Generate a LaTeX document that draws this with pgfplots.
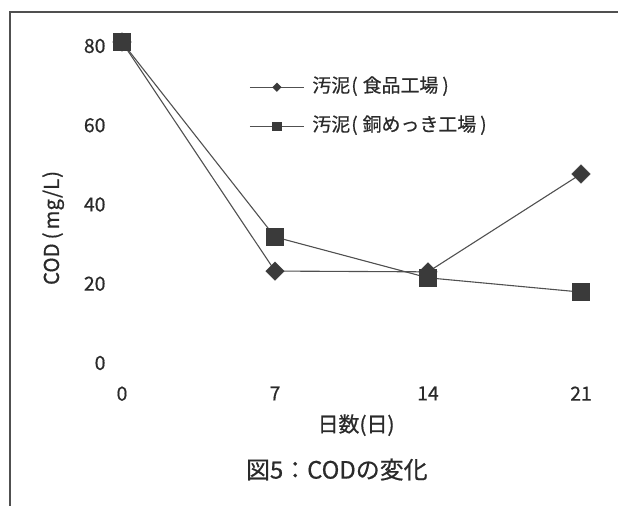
\documentclass[border=0pt]{standalone}
\usepackage{fontspec}
\setmainfont{Noto Sans CJK JP}[FakeBold=0.6]
\usepackage{pgfplots}
\pgfplotsset{compat=1.18}
\definecolor{mk}{HTML}{3A3A3A}
\definecolor{ln}{HTML}{505050}
\definecolor{frm}{HTML}{505050}
\definecolor{tx}{HTML}{2A2A2A}
\begin{document}
\begin{tikzpicture}
\useasboundingbox (0bp,0bp) rectangle (618bp,506bp);
\begin{axis}[
  at={(122bp,143bp)}, anchor=south west,
  scale only axis, width=459bp, height=317bp,
  xmin=0, xmax=21, ymin=0, ymax=80,
  axis line style={draw=none},
  major tick length=0pt,
  tick style={draw=none},
  clip=false,
  xtick={0,7,14,21}, ytick={0,20,40,60,80},
  /pgf/number format/assume math mode=true,
  ticklabel style={font=\fontsize{19.5}{21}\selectfont, text=tx},
  yticklabel style={anchor=east, xshift=-13bp},
  xticklabel style={anchor=north, yshift=-20bp},
  xlabel={日数(日)},
  ylabel={COD\hspace{4bp}(\hspace{3bp}mg/L\hspace{1bp})},
  xlabel style={font=\fontsize{21}{23}\selectfont, text=tx, at={(axis description cs:0.510,-0.196)}, anchor=center},
  ylabel style={font=\fontsize{20.5}{22}\selectfont, text=tx, at={(axis description cs:-0.150,0.426)}, anchor=center},
  title={図5：CODの変化},
  title style={font=\fontsize{24}{26}\selectfont, text=tx, at={(axis description cs:0.468,-0.355)}, anchor=center},
  legend style={draw=none, fill=none, font=\fontsize{19}{21}\selectfont, text=tx,
    at={(axis description cs:0.277,0.899)}, anchor=north west,
    inner sep=0pt, row sep=21bp, cells={anchor=west},
    nodes={inner sep=0pt, text height=14bp, text depth=4bp}},
  legend cell align=left,
]
\addplot[ln, line width=1.1bp, mark=square*, mark size=6.5bp,
  mark options={rotate=45, fill=mk, draw=mk, line width=0.5bp},
  legend image code/.code={
    \draw[ln, line width=1.1bp] (0bp,0bp) -- (54bp,0bp);
    \draw[ln, line width=1.1bp, mark=square*, mark size=3bp, mark options={rotate=45, fill=mk, draw=mk, line width=0.5bp}] plot coordinates {(27bp,0bp)};
  }]
  coordinates {(0,81) (7,23.2) (14,23.0) (21,47.7)};
\addlegendentry{\hspace{8bp}汚泥\hspace{1bp}(\hspace{5bp}食品工場\hspace{4bp})}
\addplot[ln, line width=1.1bp, mark=square*, mark size=8.5bp,
  mark options={fill=mk, draw=mk, line width=0.5bp},
  legend image code/.code={
    \draw[ln, line width=1.1bp] (0bp,0bp) -- (54bp,0bp);
    \draw[ln, line width=1.1bp, mark=square*, mark size=4.3bp, mark options={fill=mk, draw=mk, line width=0.5bp}] plot coordinates {(27bp,0bp)};
  }]
  coordinates {(0,81) (7,31.8) (14,21.5) (21,17.9)};
\addlegendentry{\hspace{8bp}汚泥\hspace{1bp}(\hspace{5bp}銅めっき工場\hspace{4bp})}
\end{axis}
\draw[frm, line width=1.2bp] (10bp,0bp) -- (10bp,494bp) -- (618bp,494bp);
\end{tikzpicture}
\end{document}
